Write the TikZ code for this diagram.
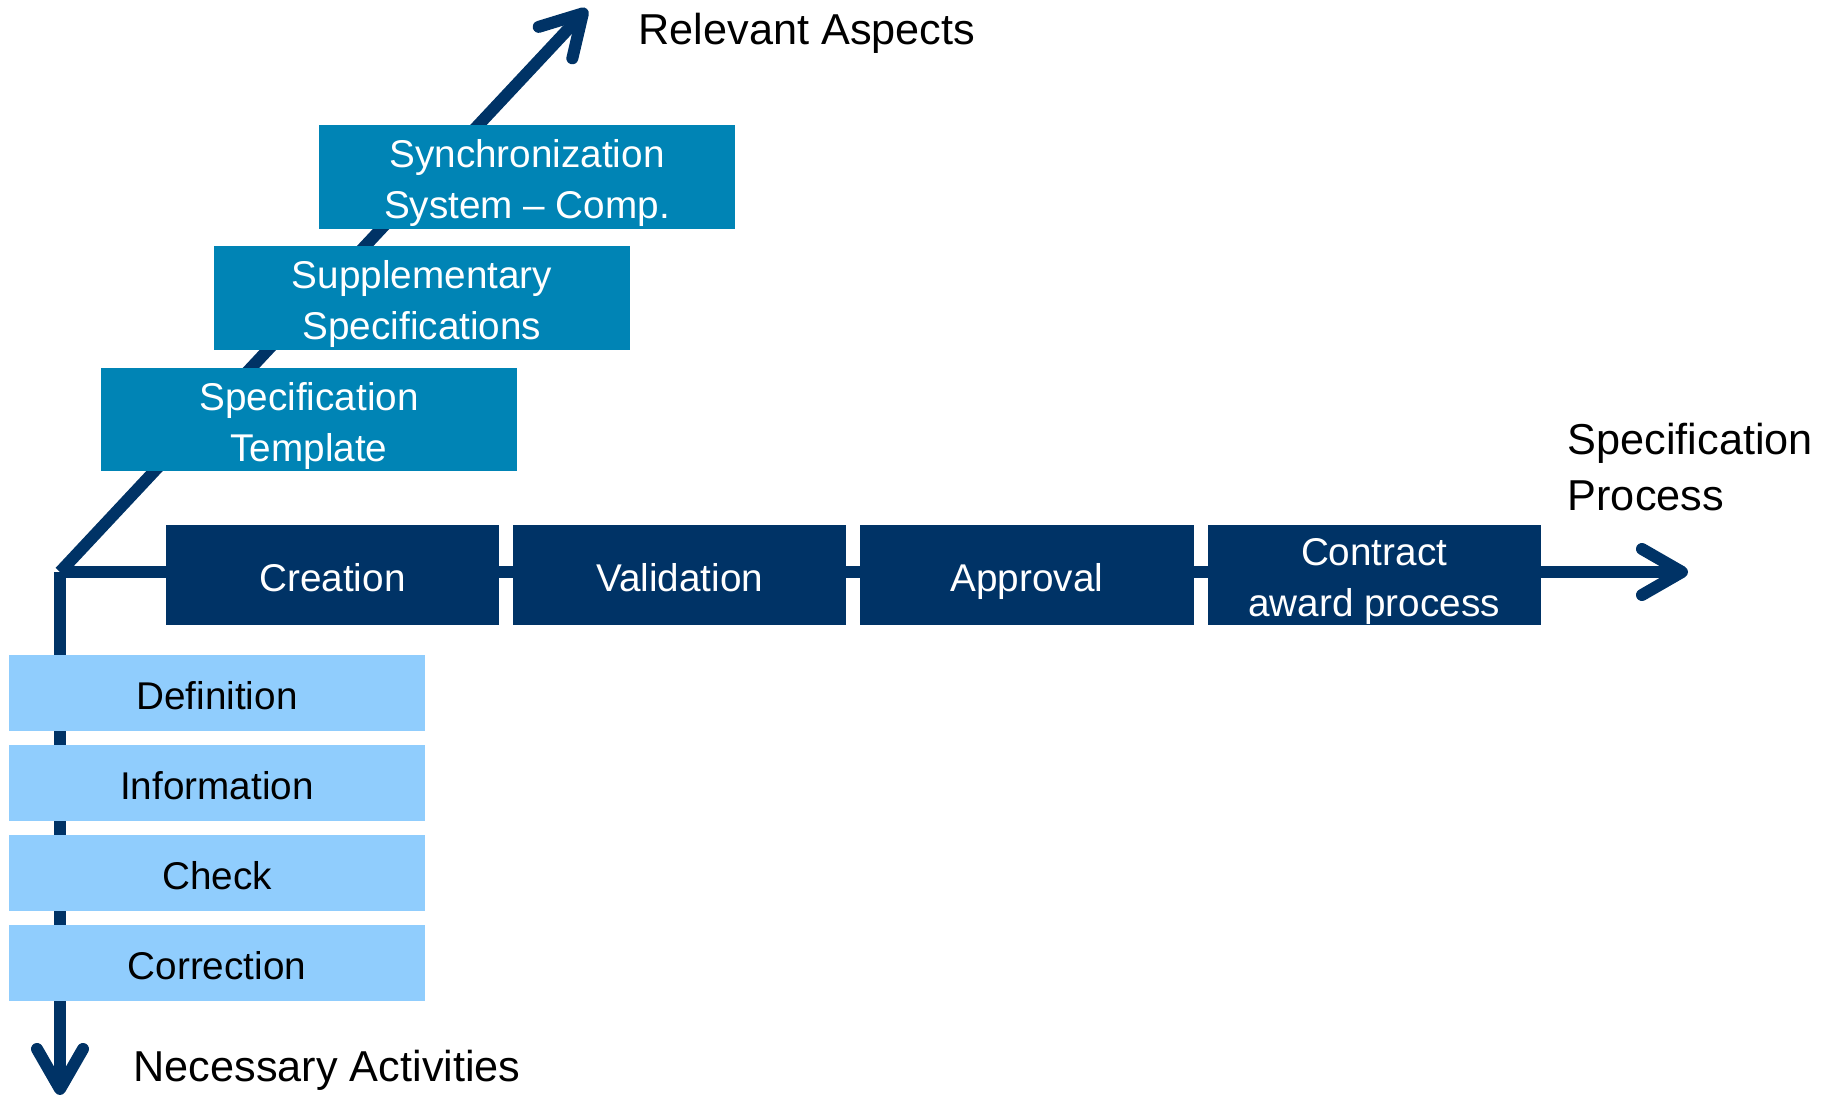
\documentclass[tikz,border=0pt]{standalone}
\usepackage{fontspec}
\setmainfont{Liberation Sans}
\usepackage{xcolor}
\usetikzlibrary{positioning,arrows.meta}

\definecolor{navy}{RGB}{0,51,102}
\definecolor{petrol}{RGB}{0,132,181}
\definecolor{sky}{RGB}{144,205,253}

\begin{document}
\begin{tikzpicture}[x=0.01cm, y=-0.01cm,
    axisline/.style={draw=navy, line width=0.12cm, -{Straight Barb[length=0.4cm, width=0.46cm, round]}},
    box/.style={inner sep=0pt, outer sep=0pt, align=center, text height=9.2pt, text depth=0pt},
    twolines/.style={text height=23.7pt},
    phase/.style={box, fill=navy, text=white, minimum width=3.33cm, minimum height=1cm},
    aspect/.style={box, twolines, fill=petrol, text=white, minimum width=4.16cm, minimum height=1.03cm},
    activity/.style={box, fill=sky, text=black, minimum width=4.16cm, minimum height=0.76cm},
    axislabel/.style={text=black, inner sep=0pt, font=\fontsize{12.3}{16}\selectfont},
    node distance=0.14cm,
    font=\fontsize{11}{14.5}\selectfont]
    \useasboundingbox (0,0) rectangle (1832,1095);

    % Axes
    \coordinate (origin) at (60,572);
    \coordinate (aspectsend) at (587,9);
    \coordinate (processend) at (1688,572);
    \coordinate (activityend) at (60,1095);
    \draw[axisline] (origin) -- (aspectsend);
    \draw[axisline] (origin) -- (processend);
    \draw[axisline] (origin) -- (activityend);

    % Relevant aspects
    \node[aspect] (template) at (309,419.5) {Specification\\Template};
    \node[aspect] (supplement) at (422,298) {Supplementary\\Specifications};
    \node[aspect] (sync) at (527,177) {Synchronization\\System -- Comp.};

    % Specification process
    \node[phase] (creation) at (332.5,575) {Creation};
    \node[phase, right=of creation] (validation) {Validation};
    \node[phase, right=of validation] (approval) {Approval};
    \node[phase, twolines, right=of approval] (award) {Contract\\award process};

    % Necessary activities
    \node[activity] (definition) at (217,693) {Definition};
    \node[activity, below=of definition] (information) {Information};
    \node[activity, below=of information] (check) {Check};
    \node[activity, below=of check] (correction) {Correction};

    % Axis labels
    \node[axislabel, anchor=base west] (relevant) at (638,45) {Relevant Aspects};
    \node[axislabel, anchor=west, align=left] (specprocess) at (1567,467) {Specification\\Process};
    \node[axislabel, anchor=base west] (necessary) at (133,1082) {Necessary Activities};
\end{tikzpicture}
\end{document}
